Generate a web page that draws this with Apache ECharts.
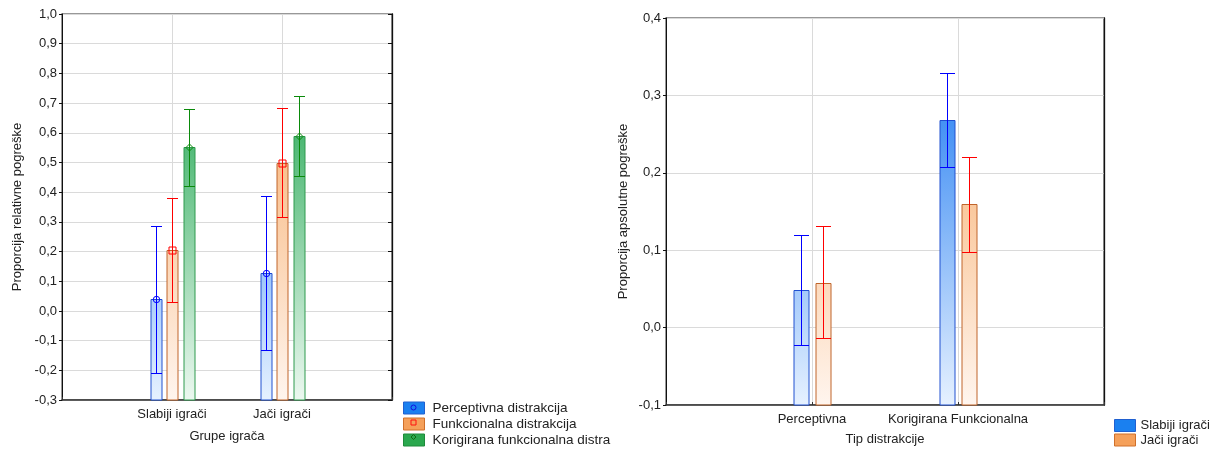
<!DOCTYPE html>
<html><head><meta charset="utf-8">
<script src="https://cdn.jsdelivr.net/npm/echarts@6/dist/echarts.min.js"></script>
<style>html,body{margin:0;padding:0;background:#fff}#c{width:1219px;height:451px}</style>
</head><body><div id="c"></div>
<script>
// ---- Left chart data ----
const leftGroups = ['Slabiji igrači', 'Jači igrači'];
const leftSeriesNames = ['Perceptivna distrakcija', 'Funkcionalna distrakcija', 'Korigirana funkcionalna distra'];
const leftMeans = [[0.039, 0.129], [0.205, 0.499], [0.551, 0.590]];
const leftLower = [[-0.210, -0.130], [0.029, 0.315], [0.421, 0.454]];
const leftUpper = [[0.286, 0.386], [0.380, 0.682], [0.680, 0.725]];
const leftYRange = [-0.3, 1.0, 0.1];

// ---- Right chart data ----
const rightGroups = ['Perceptivna', 'Korigirana Funkcionalna'];
const rightSeriesNames = ['Slabiji igrači', 'Jači igrači'];
const rightMeans = [[0.048, 0.268], [0.058, 0.160]];
const rightLower = [[-0.023, 0.208], [-0.013, 0.098]];
const rightUpper = [[0.120, 0.329], [0.131, 0.220]];
const rightYRange = [-0.1, 0.4, 0.1];

const FONT = 'Liberation Sans, Arial, sans-serif';
const TXT = '#222';
const FS = 13;

const styles = {
  blue:   {top: '#0a6ef0', bottom: '#e6f1ff', border: '#2050d0', err: '#0000ff', legend: '#1a80f0', legendBorder: '#2060d0'},
  orange: {top: '#f59f52', bottom: '#fff5ee', border: '#c0642a', err: '#ff0000', legend: '#f5a05a', legendBorder: '#d0702a'},
  green:  {top: '#039a3a', bottom: '#ecf8f0', border: '#2f9a4f', err: '#0a8a0a', legend: '#2aa84e', legendBorder: '#1f8a3a'}
};

function fmt(v) { return (Math.round(v * 10) / 10).toFixed(1).replace('.', ','); }

function makeRender(offset, w, st, marker) {
  return function (params, api) {
    const cat = api.value(0), mean = api.value(1), lo = api.value(2), hi = api.value(3);
    const cs = params.coordSys;
    const pm = api.coord([cat, mean]);
    const x = Math.round(pm[0] + offset) + 0.5;
    const yMean = Math.round(pm[1]) + 0.5;
    const yLo = Math.round(api.coord([cat, lo])[1]) + 0.5;
    const yHi = Math.round(api.coord([cat, hi])[1]) + 0.5;
    const yBottom = cs.y + cs.height;
    const grad = new echarts.graphic.LinearGradient(0, cs.y, 0, cs.y + cs.height,
      [{offset: 0, color: st.top}, {offset: 1, color: st.bottom}], true);
    const hw = w / 2;
    const children = [
      {type: 'rect', shape: {x: x - hw, y: yMean, width: w, height: yBottom - yMean},
       style: {fill: grad, stroke: st.border, lineWidth: 1}},
      {type: 'line', shape: {x1: x, y1: yHi, x2: x, y2: yLo}, style: {stroke: st.err, lineWidth: 1}},
      {type: 'line', shape: {x1: x - hw, y1: yHi, x2: x + hw, y2: yHi}, style: {stroke: st.err, lineWidth: 1}},
      {type: 'line', shape: {x1: x - hw, y1: yLo, x2: x + hw, y2: yLo}, style: {stroke: st.err, lineWidth: 1}}
    ];
    if (marker === 'circle') {
      children.push({type: 'circle', shape: {cx: x, cy: yMean, r: 3.2}, style: {fill: 'rgba(0,0,0,0)', stroke: st.err, lineWidth: 1}});
    } else if (marker === 'square') {
      children.push({type: 'rect', shape: {x: x - 3.5, y: yMean - 3.5, width: 7, height: 7}, style: {fill: 'rgba(0,0,0,0)', stroke: st.err, lineWidth: 1}});
    } else if (marker === 'diamond') {
      children.push({type: 'polygon', shape: {points: [[x, yMean - 3.5], [x + 3.5, yMean], [x, yMean + 3.5], [x - 3.5, yMean]]}, style: {fill: 'rgba(0,0,0,0)', stroke: st.err, lineWidth: 1}});
    }
    return {type: 'group', children: children};
  };
}

function yAxisCfg(gridIndex, range, name, gap) {
  return {
    type: 'value', gridIndex: gridIndex, min: range[0], max: range[1], interval: range[2],
    name: name, nameLocation: 'middle', nameGap: gap,
    nameTextStyle: {fontFamily: FONT, fontSize: FS, color: TXT},
    axisLine: {show: true, onZero: false, lineStyle: {color: '#111', width: 1}},
    axisTick: {show: true, inside: false, length: 3, lineStyle: {color: '#111'}},
    axisLabel: {fontFamily: FONT, fontSize: FS, color: TXT, margin: 5, formatter: fmt},
    splitLine: {show: true, lineStyle: {color: '#dadada', width: 1}}
  };
}
function yAxisRight(gridIndex, range, ticks) {
  return {
    type: 'value', gridIndex: gridIndex, position: 'right', min: range[0], max: range[1], interval: range[2],
    axisLine: {show: true, onZero: false, lineStyle: {color: '#111', width: 1.3}},
    axisTick: {show: ticks, inside: true, length: 4, lineStyle: {color: '#111'}},
    axisLabel: {show: false}, splitLine: {show: false}
  };
}
function xAxisCfg(gridIndex, groups, name, gap) {
  return {
    type: 'category', gridIndex: gridIndex, data: [''].concat(groups, ['']), boundaryGap: false,
    name: name, nameLocation: 'middle', nameGap: gap,
    nameTextStyle: {fontFamily: FONT, fontSize: FS, color: TXT},
    axisLine: {show: true, onZero: false, lineStyle: {color: '#333', width: 1.6}},
    axisTick: {show: true, inside: true, length: 3, lineStyle: {color: '#333'}},
    axisLabel: {fontFamily: FONT, fontSize: FS, color: TXT, margin: 8, interval: 0},
    splitLine: {show: true, lineStyle: {color: '#dadada', width: 1}}
  };
}

const leftStyles = [styles.blue, styles.orange, styles.green];
const leftMarkers = ['circle', 'square', 'diamond'];
const leftOffsets = [-16.5, 0, 16.5];
const rightStyles = [styles.blue, styles.orange];
const rightOffsets = [-11, 11];

const series = [];
leftSeriesNames.forEach(function (name, s) {
  series.push({
    type: 'custom', name: name, xAxisIndex: 0, yAxisIndex: 0, z: 5,
    itemStyle: {color: leftStyles[s].legend},
    encode: {x: 0, y: [1, 2, 3]},
    renderItem: makeRender(leftOffsets[s], 11, leftStyles[s], leftMarkers[s]),
    data: leftGroups.map(function (g, i) { return [i + 1, leftMeans[s][i], leftLower[s][i], leftUpper[s][i]]; })
  });
});
rightSeriesNames.forEach(function (name, s) {
  series.push({
    type: 'custom', name: name, xAxisIndex: 1, yAxisIndex: 2, z: 5,
    itemStyle: {color: rightStyles[s].legend},
    encode: {x: 0, y: [1, 2, 3]},
    renderItem: makeRender(rightOffsets[s], 15, rightStyles[s], null),
    data: rightGroups.map(function (g, i) { return [i + 1, rightMeans[s][i], rightLower[s][i], rightUpper[s][i]]; })
  });
});

function legendData(names, sts) {
  return names.map(function (n, i) {
    return {name: n, icon: 'rect', itemStyle: {color: sts[i].legend, borderColor: sts[i].legendBorder, borderWidth: 1}};
  });
}

const option = {
  backgroundColor: '#fff',
  animation: false,
  grid: [
    {left: 62, top: 14, width: 330, height: 386, show: true, borderColor: '#777', borderWidth: 1.5, containLabel: false},
    {left: 666, top: 18, width: 438, height: 387, show: true, borderColor: '#777', borderWidth: 1.5, containLabel: false}
  ],
  xAxis: [
    xAxisCfg(0, leftGroups, 'Grupe igrača', 30),
    xAxisCfg(1, rightGroups, 'Tip distrakcije', 28)
  ],
  yAxis: [
    yAxisCfg(0, leftYRange, 'Proporcija relativne pogreške', 38),
    yAxisRight(0, leftYRange, true),
    yAxisCfg(1, rightYRange, 'Proporcija apsolutne pogreške', 36),
    yAxisRight(1, rightYRange, false)
  ],
  legend: [
    {orient: 'vertical', left: 403, top: 401, padding: 0, itemWidth: 21, itemHeight: 12, itemGap: 2,
     selectedMode: false, textStyle: {fontFamily: FONT, fontSize: 13.5, color: TXT, lineHeight: 13, padding: [0, 0, 0, 3]},
     data: legendData(leftSeriesNames, leftStyles)},
    {orient: 'vertical', left: 1114, top: 419, padding: 0, itemWidth: 21, itemHeight: 12, itemGap: 1.5,
     selectedMode: false, textStyle: {fontFamily: FONT, fontSize: 13, color: TXT, lineHeight: 13, padding: [0, 0, 0, 0]},
     data: legendData(rightSeriesNames, rightStyles)}
  ],
  graphic: [
    {type: 'circle', shape: {cx: 413.5, cy: 407.5, r: 2.5}, style: {fill: 'rgba(0,0,0,0)', stroke: '#1010e0', lineWidth: 1}, z: 100},
    {type: 'rect', shape: {x: 411, y: 420, width: 5, height: 5}, style: {fill: 'rgba(0,0,0,0)', stroke: '#ff1010', lineWidth: 1}, z: 100},
    {type: 'polygon', shape: {points: [[413.5, 434.5], [416, 437], [413.5, 439.5], [411, 437]]}, style: {fill: 'rgba(0,0,0,0)', stroke: '#106a10', lineWidth: 1}, z: 100}
  ],
  series: series
};

const chart = echarts.init(document.getElementById('c'), null, {renderer: 'canvas'});
chart.setOption(option);
</script>
</body></html>
